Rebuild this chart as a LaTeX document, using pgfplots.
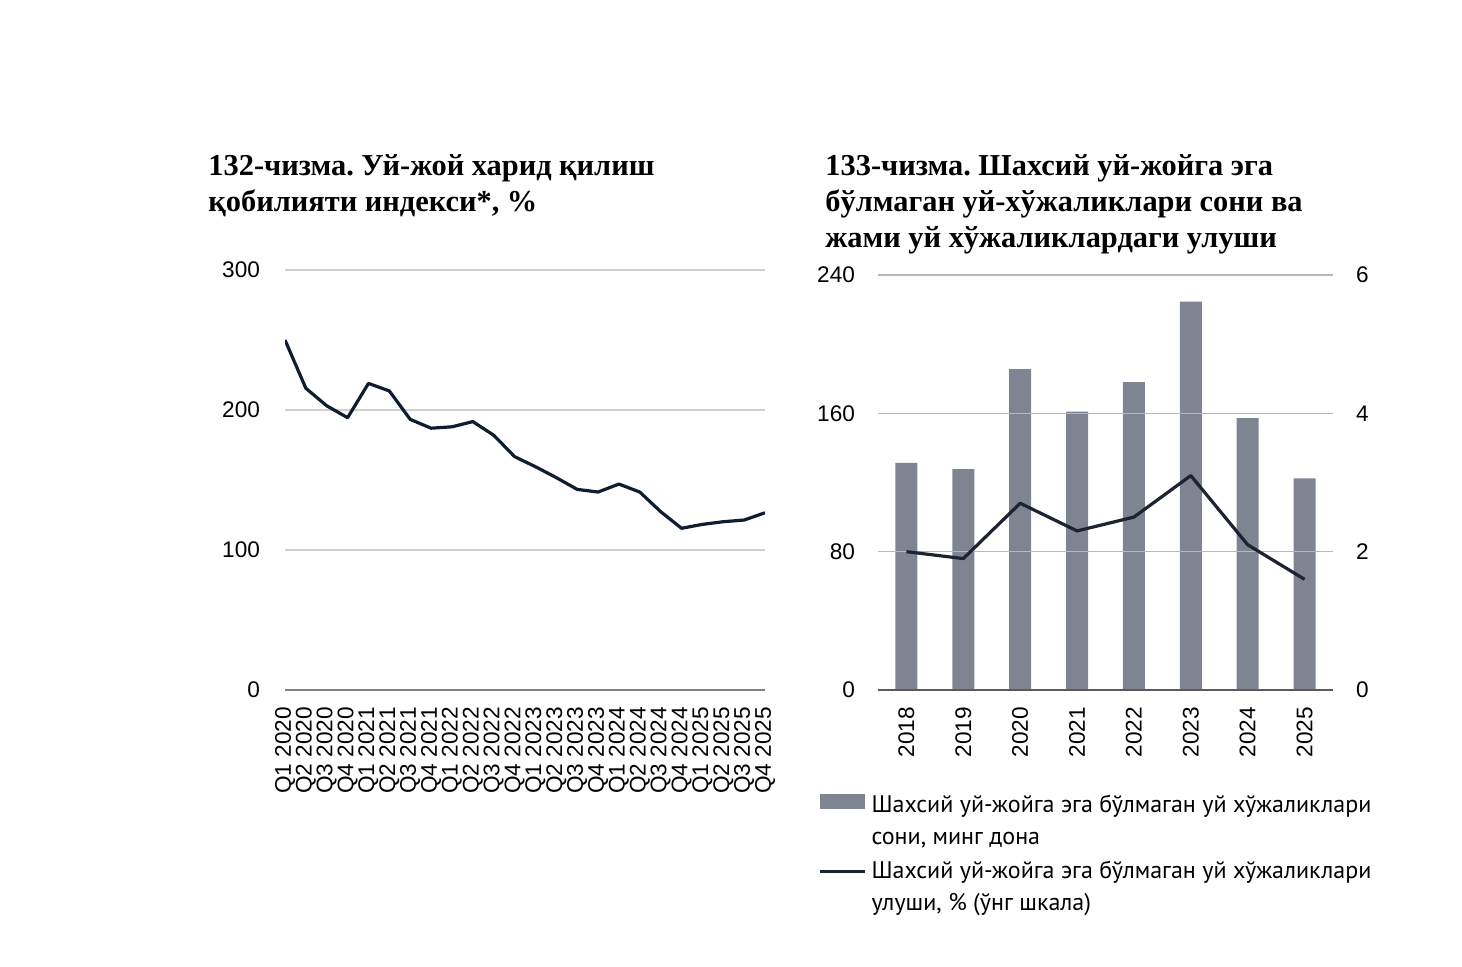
\documentclass[border=0pt]{standalone}
\usepackage{fontspec}
\setmainfont{Liberation Sans}
\newfontfamily\titlefont{Liberation Serif}
\newfontfamily\legfont{PT Sans}
\usepackage{pgfplots}
\usepackage{pgfplotstable}
\pgfplotsset{compat=1.18}
\definecolor{linecol}{HTML}{0F1D31}
\definecolor{line2}{HTML}{1C2331}
\definecolor{barcol}{HTML}{7F8491}
\definecolor{gridcol}{HTML}{D0D0D0}
\definecolor{grid2}{HTML}{B8B8B8}
\definecolor{axcol}{HTML}{808080}
\frenchspacing

\pgfplotstableread{
x v
0 250
1 215.5
2 203
3 194.5
4 219
5 213.6
6 193.3
7 187
8 188
9 191.7
10 182
11 166.7
12 159.5
13 151.7
14 143.3
15 141.4
16 147.1
17 141.4
18 127.4
19 115.5
20 118.3
21 120.2
22 121.4
23 126.6
}\idxtable

\pgfplotstableread{
x n s
0 131.3 2.00
1 127.8 1.90
2 185.6 2.70
3 161.0 2.30
4 178.0 2.50
5 224.6 3.10
6 157.3 2.10
7 122.4 1.60
}\hhtable

\begin{document}
\begin{tikzpicture}
\path[use as bounding box] (0pt,0pt) rectangle (731pt,-483.5pt);

% titles
\begin{scope}[every node/.style={anchor=base west, inner sep=0pt, font=\titlefont\bfseries\fontsize{15.2}{17}\selectfont}]
\node at (104pt,-88pt) {132-чизма. Уй-жой харид қилиш};
\node at (104pt,-106pt) {қобилияти индекси*, \%};
\node at (412.5pt,-88pt) {133-чизма. Шахсий уй-жойга эга};
\node at (412.5pt,-106pt) {бўлмаган уй-хўжаликлари сони ва};
\node at (412.5pt,-124pt) {жами уй хўжаликлардаги улуши};
\end{scope}

% left chart
\begin{axis}[
  at={(142.5pt,-345pt)}, anchor=south west,
  scale only axis, width=240pt, height=210pt,
  xmin=0, xmax=23, ymin=0, ymax=300,
  ytick={0,100,200,300},
  ymajorgrids, grid style={gridcol, line width=0.6pt},
  axis x line*=bottom, axis y line*=left,
  y axis line style={draw=none},
  x axis line style={draw=axcol, line width=0.8pt, -},
  major tick length=0pt,
  xtick={0,...,23},
  xticklabels={Q1 2020,Q2 2020,Q3 2020,Q4 2020,Q1 2021,Q2 2021,Q3 2021,Q4 2021,Q1 2022,Q2 2022,Q3 2022,Q4 2022,Q1 2023,Q2 2023,Q3 2023,Q4 2023,Q1 2024,Q2 2024,Q3 2024,Q4 2024,Q1 2025,Q2 2025,Q3 2025,Q4 2025},
  xticklabel style={rotate=90, anchor=east},
  xticklabel shift=5pt,
  yticklabel shift=9pt,
  tick label style={font=\fontsize{11.3}{13}\selectfont},
  /pgf/number format/assume math mode=true,
]
\addplot[linecol, line width=1.6pt, line join=round, no marks] table[x=x, y=v] {\idxtable};
\end{axis}

% right chart - bars
\begin{axis}[
  at={(439pt,-345pt)}, anchor=south west,
  scale only axis, width=227.5pt, height=207.5pt,
  xmin=-0.5, xmax=7.5, ymin=0, ymax=240,
  ytick={0,80,160,240},
  ymajorgrids, grid style={grid2, line width=0.6pt},
  axis on top,
  axis x line*=bottom, axis y line*=left,
  y axis line style={draw=none},
  x axis line style={draw=axcol!70!black, line width=0.8pt, -},
  major tick length=0pt,
  xtick={0,...,7},
  xticklabels={2018,2019,2020,2021,2022,2023,2024,2025},
  xticklabel style={rotate=90, anchor=east},
  xticklabel shift=5pt,
  yticklabel shift=8pt,
  tick label style={font=\fontsize{11.3}{13}\selectfont},
  /pgf/number format/assume math mode=true,
  legend style={at={(-0.1319,-0.240)}, anchor=north west, draw=none, fill=none,
    inner sep=0pt, row sep=20.5pt, column sep=2.5pt,
    nodes={inner sep=0pt},
    font=\legfont\fontsize{12}{16}\selectfont},
  legend cell align=left,
]
\addplot[ybar, bar width=11pt, fill=barcol, draw=none,
  legend image code/.code={\fill[barcol] (0pt,-3.3pt) rectangle (22.5pt,4.5pt);}]
  table[x=x, y=n] {\hhtable};
\addlegendentry{\begin{tabular}[t]{@{}l@{}}Шахсий уй-жойга эга бўлмаган уй хўжаликлари\\сони, минг дона\end{tabular}}
\addlegendimage{line2, line width=1.6pt,
  legend image code/.code={\draw[line2, line width=1.6pt] (0pt,-1pt) -- (22.5pt,-1pt);}}
\addlegendentry{\begin{tabular}[t]{@{}l@{}}Шахсий уй-жойга эга бўлмаган уй хўжаликлари\\улуши, \% (ўнг шкала)\end{tabular}}
\end{axis}

% right chart - line (right axis)
\begin{axis}[
  at={(439pt,-345pt)}, anchor=south west,
  scale only axis, width=227.5pt, height=207.5pt,
  xmin=-0.5, xmax=7.5, ymin=0, ymax=6,
  ytick={0,2,4,6},
  axis x line=none,
  axis y line*=right,
  y axis line style={draw=none},
  major tick length=0pt,
  yticklabel shift=8pt,
  tick label style={font=\fontsize{11.3}{13}\selectfont},
  /pgf/number format/assume math mode=true,
]
\addplot[line2, line width=1.6pt, line join=round, no marks] table[x=x, y=s] {\hhtable};
\end{axis}
\end{tikzpicture}
\end{document}
